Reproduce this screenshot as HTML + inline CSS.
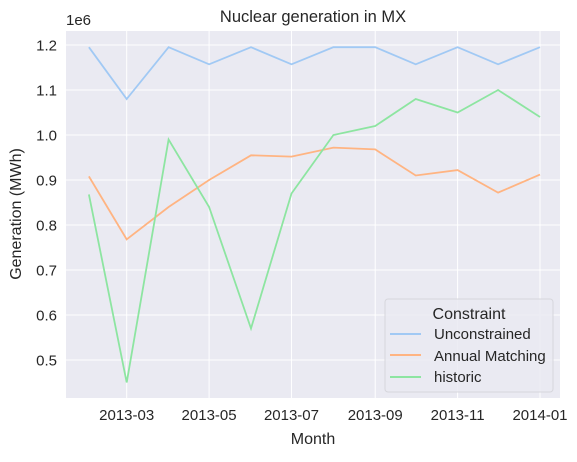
<!DOCTYPE html>
<html><head><meta charset="utf-8"><style>
body{margin:0;background:#fff;font-family:"Liberation Sans",sans-serif;}
</style></head><body>
<svg width="577" height="457" xmlns="http://www.w3.org/2000/svg" font-family="Liberation Sans, sans-serif" id="chart">
<rect x="66" y="31" width="494" height="367" fill="#eaeaf2"/>
<g id="grid"></g>
<g id="series"></g>
<text x="313" y="22" font-size="16.5" text-anchor="middle" fill="#262626">Nuclear generation in MX</text>
<text x="66" y="25" font-size="15" fill="#262626">1e6</text>
<text x="313" y="444" font-size="16" text-anchor="middle" fill="#262626">Month</text>
<text transform="translate(21,214) rotate(-90)" font-size="16" text-anchor="middle" fill="#262626">Generation (MWh)</text>
<g>
<rect x="385" y="299" width="168" height="93" rx="3" fill="#eaeaf2" fill-opacity="0.85" stroke="#d6d6dc"/>
<text x="469" y="319" font-size="16" text-anchor="middle" fill="#262626">Constraint</text>
<line x1="390" y1="334" x2="421" y2="334" stroke="#a1c9f4" stroke-width="2"/>
<text x="434" y="339" font-size="15" fill="#262626">Unconstrained</text>
<line x1="390" y1="355" x2="421" y2="355" stroke="#ffb482" stroke-width="2"/>
<text x="434" y="361" font-size="15" fill="#262626">Annual Matching</text>
<line x1="390" y1="377" x2="421" y2="377" stroke="#8de5a1" stroke-width="2"/>
<text x="434" y="382" font-size="15" fill="#262626">historic</text>
</g>
</svg>
<script>
const months = ["2013-02-01","2013-03-01","2013-04-01","2013-05-01","2013-06-01","2013-07-01","2013-08-01","2013-09-01","2013-10-01","2013-11-01","2013-12-01","2014-01-01"];
const unconstrained = [1.195,1.08,1.195,1.157,1.195,1.157,1.195,1.195,1.157,1.195,1.157,1.195];
const annualMatching = [0.908,0.768,0.84,0.9,0.955,0.952,0.972,0.968,0.91,0.922,0.872,0.912];
const historic = [0.868,0.45,0.99,0.84,0.57,0.87,1.0,1.02,1.08,1.05,1.10,1.04];
const yTicks = [0.5,0.6,0.7,0.8,0.9,1.0,1.1,1.2];
const xTicks = ["2013-03-01","2013-05-01","2013-07-01","2013-09-01","2013-11-01","2014-01-01"];
const xTickLabels = ["2013-03","2013-05","2013-07","2013-09","2013-11","2014-01"];

const NS="http://www.w3.org/2000/svg";
const d0=Date.parse("2013-03-01"), d1=Date.parse("2014-01-01");
function xs(s){return 126.7+(Date.parse(s)-d0)/(d1-d0)*(540-126.7);}
function ys(v){return 135+(1.0-v)*450;}
const grid=document.getElementById('grid'), series=document.getElementById('series'), svg=document.getElementById('chart');
yTicks.forEach(t=>{
  const l=document.createElementNS(NS,'line');
  l.setAttribute('x1',66);l.setAttribute('x2',560);l.setAttribute('y1',ys(t));l.setAttribute('y2',ys(t));
  l.setAttribute('stroke','#fff');l.setAttribute('stroke-width','1');
  
  
  grid.appendChild(l);
  const tx=document.createElementNS(NS,'text');
  tx.setAttribute('x',57);tx.setAttribute('y',ys(t)+5.5);tx.setAttribute('text-anchor','end');
  tx.setAttribute('font-size','15');tx.setAttribute('fill','#262626');tx.textContent=t.toFixed(1);
  
  
  svg.appendChild(tx);
});
xTicks.forEach((t,i)=>{
  const l=document.createElementNS(NS,'line');
  l.setAttribute('x1',xs(t));l.setAttribute('x2',xs(t));l.setAttribute('y1',31);l.setAttribute('y2',398);
  l.setAttribute('stroke','#fff');l.setAttribute('stroke-width','1');
  
  
  grid.appendChild(l);
  const tx=document.createElementNS(NS,'text');
  tx.setAttribute('x',xs(t));tx.setAttribute('y',420);tx.setAttribute('text-anchor','middle');
  tx.setAttribute('font-size','15');tx.setAttribute('fill','#262626');tx.textContent=xTickLabels[i];
  
  
  svg.appendChild(tx);
});
[[unconstrained,'#a1c9f4','line-unconstrained'],[annualMatching,'#ffb482','line-annual-matching'],[historic,'#8de5a1','line-historic']].forEach(([vals,c,n])=>{
  const p=document.createElementNS(NS,'polyline');
  p.setAttribute('points',vals.map((v,i)=>xs(months[i]).toFixed(1)+','+ys(v).toFixed(1)).join(' '));
  p.setAttribute('fill','none');p.setAttribute('stroke',c);p.setAttribute('stroke-width','1.8');
  
  
  series.appendChild(p);
});
</script>
</body></html>
